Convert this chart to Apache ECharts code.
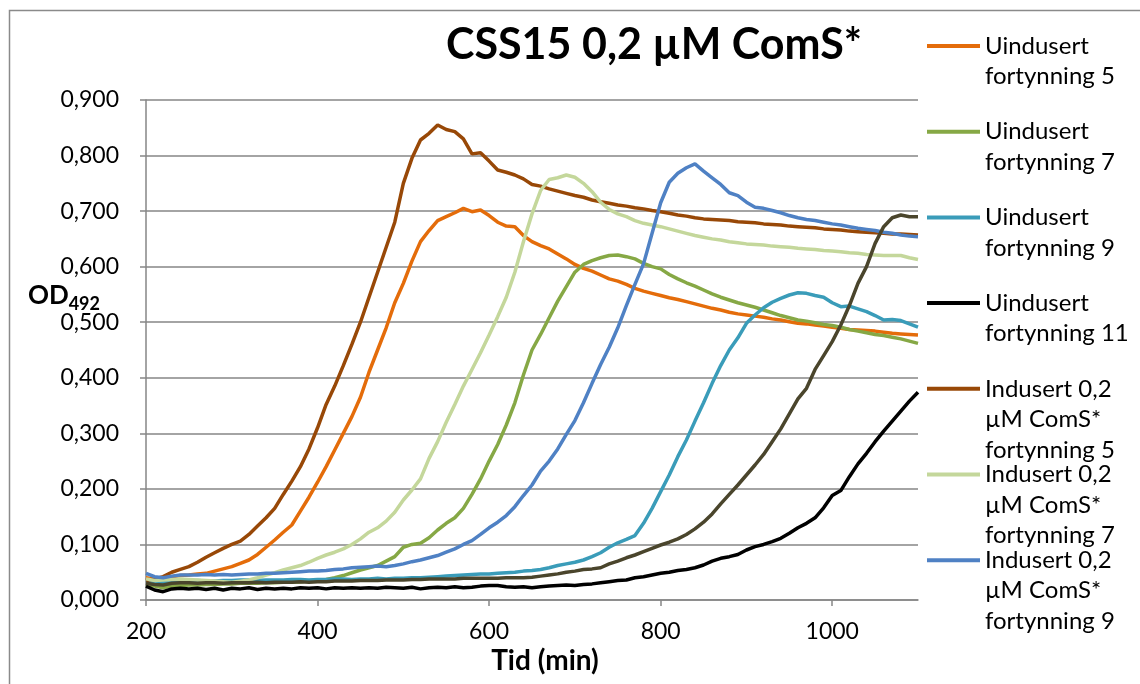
<!DOCTYPE html>
<html>
<head>
<meta charset="utf-8">
<script src="https://cdn.jsdelivr.net/npm/echarts@6/dist/echarts.min.js"></script>
<style>
html,body{margin:0;padding:0;background:#fff;}
#chart{width:1140px;height:684px;}
</style>
</head>
<body>
<div id="chart"></div>
<script>
const titleText = 'CSS15 0,2 µM ComS*';
const xAxisName = 'Tid (min)';
const xTicks = [200, 400, 600, 800, 1000];

const times = [200,210,220,230,240,250,260,270,280,290,
  300,310,320,330,340,350,360,370,380,390,
  400,410,420,430,440,450,460,470,480,490,
  500,510,520,530,540,550,560,570,580,590,
  600,610,620,630,640,650,660,670,680,690,
  700,710,720,730,740,750,760,770,780,790,
  800,810,820,830,840,850,860,870,880,890,
  900,910,920,930,940,950,960,970,980,990,
  1000,1010,1020,1030,1040,1050,1060,1070,1080,1090,
  1100];

const uind5 = [0.040,0.038,0.040,0.042,0.044,0.045,0.047,0.048,0.052,0.056,
  0.060,0.066,0.072,0.082,0.095,0.108,0.122,0.135,0.160,0.185,
  0.212,0.240,0.270,0.300,0.330,0.365,0.410,0.450,0.490,0.535,
  0.570,0.610,0.645,0.665,0.683,0.690,0.697,0.705,0.699,0.702,
  0.692,0.680,0.673,0.672,0.656,0.645,0.638,0.632,0.623,0.614,
  0.604,0.597,0.592,0.585,0.578,0.574,0.568,0.561,0.556,0.552,
  0.548,0.544,0.541,0.537,0.533,0.529,0.525,0.522,0.518,0.515,
  0.513,0.511,0.509,0.506,0.504,0.501,0.498,0.497,0.495,0.493,
  0.491,0.489,0.487,0.486,0.485,0.484,0.482,0.480,0.479,0.478,
  0.477];

const uind7 = [0.028,0.025,0.022,0.025,0.026,0.027,0.027,0.028,0.028,0.029,
  0.029,0.030,0.030,0.030,0.031,0.031,0.032,0.032,0.033,0.034,
  0.035,0.037,0.040,0.044,0.049,0.054,0.058,0.062,0.070,0.078,
  0.095,0.100,0.102,0.112,0.126,0.138,0.148,0.165,0.190,0.218,
  0.250,0.280,0.315,0.355,0.405,0.450,0.478,0.508,0.538,0.564,
  0.590,0.604,0.611,0.616,0.620,0.621,0.618,0.614,0.606,0.600,
  0.596,0.586,0.578,0.571,0.565,0.558,0.551,0.545,0.540,0.535,
  0.531,0.527,0.522,0.517,0.512,0.508,0.504,0.502,0.499,0.496,
  0.494,0.491,0.487,0.484,0.481,0.478,0.476,0.473,0.470,0.466,
  0.462];

const uind9 = [0.035,0.033,0.032,0.033,0.034,0.034,0.035,0.034,0.034,0.035,
  0.035,0.036,0.036,0.035,0.036,0.036,0.036,0.037,0.037,0.036,
  0.037,0.037,0.038,0.038,0.037,0.038,0.038,0.039,0.038,0.039,
  0.039,0.040,0.040,0.041,0.042,0.043,0.044,0.045,0.046,0.047,
  0.047,0.048,0.049,0.050,0.052,0.053,0.055,0.058,0.062,0.065,
  0.068,0.072,0.078,0.085,0.095,0.103,0.109,0.116,0.138,0.165,
  0.195,0.225,0.258,0.288,0.322,0.355,0.390,0.422,0.450,0.472,
  0.498,0.513,0.526,0.536,0.543,0.549,0.553,0.552,0.548,0.545,
  0.535,0.528,0.529,0.524,0.519,0.512,0.504,0.505,0.503,0.497,
  0.491];

const uind11 = [0.025,0.018,0.015,0.020,0.021,0.020,0.021,0.019,0.021,0.018,
  0.021,0.020,0.022,0.019,0.021,0.020,0.021,0.020,0.022,0.021,
  0.022,0.020,0.022,0.021,0.022,0.021,0.022,0.021,0.023,0.022,
  0.021,0.023,0.020,0.022,0.023,0.022,0.024,0.022,0.023,0.025,
  0.026,0.026,0.024,0.023,0.024,0.022,0.024,0.025,0.026,0.027,
  0.026,0.028,0.029,0.031,0.033,0.035,0.036,0.040,0.042,0.045,
  0.048,0.050,0.053,0.055,0.058,0.063,0.070,0.075,0.078,0.082,
  0.090,0.096,0.100,0.105,0.111,0.120,0.130,0.138,0.148,0.166,
  0.188,0.197,0.222,0.245,0.264,0.285,0.304,0.322,0.340,0.358,
  0.374];

const ind5 = [0.035,0.038,0.042,0.050,0.055,0.060,0.068,0.077,0.085,0.093,
  0.100,0.106,0.118,0.133,0.148,0.165,0.190,0.214,0.240,0.272,
  0.310,0.352,0.385,0.422,0.460,0.500,0.545,0.590,0.635,0.680,
  0.750,0.795,0.828,0.840,0.855,0.847,0.843,0.830,0.803,0.805,
  0.790,0.774,0.770,0.765,0.758,0.748,0.745,0.740,0.736,0.732,
  0.728,0.725,0.720,0.717,0.714,0.711,0.709,0.706,0.704,0.701,
  0.699,0.696,0.693,0.691,0.688,0.686,0.685,0.684,0.683,0.681,
  0.680,0.679,0.677,0.676,0.675,0.673,0.672,0.671,0.670,0.668,
  0.667,0.666,0.664,0.663,0.662,0.661,0.660,0.659,0.659,0.658,
  0.657];

const ind7 = [0.038,0.035,0.036,0.037,0.038,0.037,0.036,0.035,0.034,0.033,
  0.032,0.034,0.036,0.040,0.045,0.049,0.054,0.058,0.062,0.068,
  0.075,0.081,0.086,0.092,0.100,0.110,0.122,0.130,0.142,0.158,
  0.180,0.198,0.218,0.255,0.285,0.320,0.352,0.385,0.415,0.445,
  0.477,0.510,0.545,0.590,0.645,0.695,0.737,0.757,0.760,0.765,
  0.761,0.750,0.735,0.716,0.703,0.695,0.690,0.683,0.678,0.675,
  0.672,0.668,0.664,0.660,0.656,0.653,0.650,0.648,0.645,0.643,
  0.641,0.640,0.639,0.637,0.636,0.635,0.633,0.632,0.631,0.629,
  0.628,0.627,0.625,0.624,0.622,0.621,0.620,0.620,0.620,0.616,
  0.613];

const ind9 = [0.048,0.042,0.040,0.043,0.045,0.045,0.045,0.046,0.045,0.046,
  0.045,0.046,0.047,0.047,0.048,0.048,0.049,0.050,0.051,0.052,
  0.052,0.053,0.055,0.056,0.058,0.059,0.060,0.061,0.060,0.062,
  0.065,0.069,0.072,0.076,0.080,0.086,0.092,0.100,0.107,0.118,
  0.130,0.140,0.152,0.168,0.188,0.207,0.232,0.250,0.272,0.298,
  0.323,0.355,0.390,0.424,0.455,0.490,0.530,0.568,0.605,0.660,
  0.715,0.752,0.768,0.778,0.785,0.772,0.760,0.748,0.733,0.728,
  0.716,0.707,0.705,0.701,0.697,0.692,0.688,0.685,0.683,0.680,
  0.677,0.675,0.672,0.669,0.667,0.665,0.662,0.660,0.657,0.655,
  0.654];

const ind11 = [0.030,0.028,0.027,0.030,0.031,0.031,0.030,0.031,0.031,0.030,
  0.031,0.031,0.031,0.032,0.031,0.032,0.032,0.032,0.033,0.032,
  0.033,0.033,0.034,0.034,0.034,0.035,0.035,0.035,0.036,0.036,
  0.036,0.037,0.037,0.038,0.038,0.038,0.038,0.039,0.039,0.039,
  0.039,0.039,0.040,0.040,0.040,0.041,0.043,0.045,0.047,0.050,
  0.052,0.055,0.056,0.058,0.065,0.070,0.076,0.081,0.087,0.093,
  0.099,0.104,0.110,0.118,0.128,0.140,0.155,0.173,0.190,0.207,
  0.225,0.243,0.262,0.285,0.308,0.335,0.362,0.381,0.415,0.440,
  0.465,0.495,0.530,0.570,0.600,0.642,0.672,0.688,0.693,0.690,
  0.690];

const seriesNames = [
  'Uindusert fortynning 5','Uindusert fortynning 7','Uindusert fortynning 9','Uindusert fortynning 11',
  'Indusert 0,2 µM ComS* fortynning 5','Indusert 0,2 µM ComS* fortynning 7','Indusert 0,2 µM ComS* fortynning 9','Indusert 0,2 µM ComS* fortynning 11'
];
const legendLabels = [
  'Uindusert\nfortynning 5','Uindusert\nfortynning 7','Uindusert\nfortynning 9','Uindusert\nfortynning 11',
  'Indusert 0,2\nµM ComS*\nfortynning 5','Indusert 0,2\nµM ComS*\nfortynning 7','Indusert 0,2\nµM ComS*\nfortynning 9'
];
const seriesValues = [uind5, uind7, uind9, uind11, ind5, ind7, ind9, ind11];
const colors = ['#E46C0A','#86A845','#3A9CB9','#000000','#984807','#C4D79B','#4F81C4','#4A452C'];

const FONT = 'Lato';
const chart = echarts.init(document.getElementById('chart'));

const LH = 30.5;
const legends = legendLabels.map((lab, i) => {
  const nLines = lab.split('\n').length;
  const center = 46 + i * 85.7;
  const padded = '\n'.repeat(nLines - 1) + lab;
  return {
    data: [seriesNames[i]],
    orient: 'vertical',
    left: 927,
    top: center - (2 * nLines - 1) * LH / 2,
    padding: 0,
    icon: 'rect',
    itemWidth: 53,
    itemHeight: 4,
    selectedMode: false,
    formatter: () => padded,
    textStyle: { fontFamily: FONT, fontSize: 24, color: '#000', lineHeight: LH }
  };
});

chart.setOption({
  animation: false,
  backgroundColor: '#fff',
  color: colors,
  title: {
    text: titleText,
    left: 441, top: 19,
    textStyle: { fontFamily: FONT, fontSize: 43, fontWeight: 'bold', color: '#000' }
  },
  graphic: [{
    type: 'rect', left: 7, top: 8, silent: true,
    shape: { width: 1300, height: 900 },
    style: { fill: 'none', stroke: '#8a8a8a', lineWidth: 1.5 }
  }],
  legend: legends,
  grid: { left: 146, right: 222, top: 100, bottom: 84, containLabel: false, outerBoundsMode: 'none' },
  xAxis: {
    type: 'value', min: 200, max: 1100, interval: 200,
    name: xAxisName, nameLocation: 'middle', nameGap: 47, nameMoveOverlap: false,
    nameTextStyle: { fontFamily: FONT, fontSize: 28, fontWeight: 'bold', color: '#000', padding: [0, 0, 0, 26] },
    axisLine: { show: true, onZero: false, lineStyle: { color: '#868686', width: 1.5 } },
    axisTick: { show: true, length: 6, customValues: xTicks, lineStyle: { color: '#868686', width: 1.5 } },
    axisLabel: { customValues: xTicks, margin: 20, fontFamily: FONT, fontSize: 23, color: '#000',
      formatter: v => String(v) },
    splitLine: { show: false }
  },
  yAxis: {
    type: 'value', min: 0, max: 0.9, interval: 0.1,
    name: '{a|OD}{b|492}', nameLocation: 'middle', nameRotate: 0, nameGap: 46, nameMoveOverlap: false,
    nameTextStyle: {
      padding: [0, 0, 108, 0],
      rich: {
        a: { fontFamily: FONT, fontSize: 26, fontWeight: 'bold', color: '#000' },
        b: { fontFamily: FONT, fontSize: 18, fontWeight: 'bold', color: '#000', padding: [16, 0, 0, 0] }
      }
    },
    axisLine: { show: true, lineStyle: { color: '#868686', width: 1.5 } },
    axisTick: { show: true, length: 6, lineStyle: { color: '#868686', width: 1.5 } },
    axisLabel: {
      margin: 27, fontFamily: FONT, fontSize: 23, color: '#000',
      formatter: v => v.toFixed(3).replace('.', ',')
    },
    splitLine: { show: true, lineStyle: { color: '#868686', width: 1.5 } }
  },
  series: seriesNames.map((name, i) => ({
    name: name,
    type: 'line',
    data: times.map((t, k) => [t, seriesValues[i][k]]),
    showSymbol: false,
    symbol: 'none',
    smooth: false,
    lineStyle: { width: 3.5, color: colors[i] },
    itemStyle: { color: colors[i] },
    z: 2 + i
  }))
});
</script>
</body>
</html>
